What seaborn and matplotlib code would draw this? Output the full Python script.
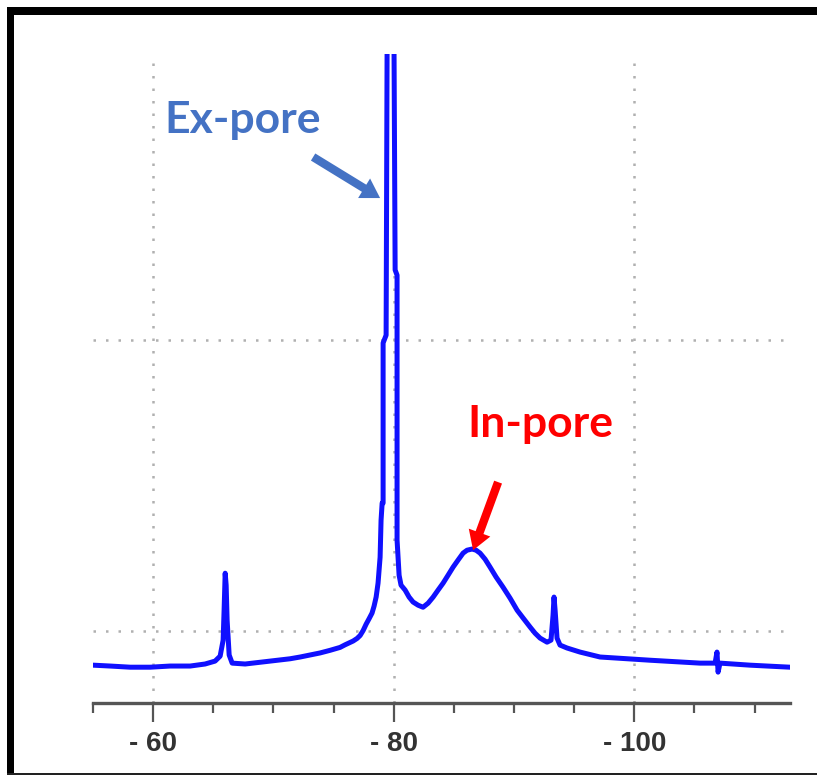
import matplotlib
matplotlib.use("Agg")
import matplotlib.pyplot as plt
from matplotlib.patches import Rectangle
from matplotlib.ticker import MultipleLocator, FixedLocator, FuncFormatter
import seaborn as sns
import pandas as pd

# Chemical shift (ppm) and intensity
ppm = [-55.01, -56.43, -58.09, -59.75, -61.41, -63.08, -64.32, -65.15, -65.57,
       -65.82, -65.90, -65.99, -66.07, -66.15, -66.32, -66.57, -67.65, -69.73,
       -71.39, -72.22, -73.88, -74.71, -75.54, -75.96, -76.63, -76.96, -77.21,
       -77.46, -77.71, -77.96, -78.20, -78.37, -78.54, -78.70,
       -78.87, -78.95, -79.04, -79.12, -79.12, -79.37, -79.45, -79.70, -80.03,
       -80.12, -80.28, -80.28, -80.45, -80.61, -80.95, -81.28, -81.61, -82.03,
       -82.44, -82.86, -83.28, -83.69, -84.11, -84.52, -84.94, -85.35, -85.77,
       -86.10, -86.52, -86.85, -87.18, -87.60, -88.01, -88.51, -89.09, -89.68,
       -90.26, -90.76, -91.34, -91.75,
       -92.17, -92.75, -93.08, -93.25, -93.33, -93.42, -93.58, -93.83, -94.41,
       -95.49, -97.16, -101.31, -105.47, -106.72, -106.88, -106.97, -107.13,
       -109.63, -112.95]
intensity = [-0.117, -0.120, -0.124, -0.124, -0.120, -0.120, -0.113, -0.103, -0.086,
             -0.031, 0.072, 0.199, 0.158, 0.038, -0.082, -0.110, -0.113, -0.103,
             -0.095, -0.089, -0.075, -0.066, -0.056, -0.047, -0.034, -0.025, -0.015,
             0.002, 0.024, 0.043, 0.062, 0.086, 0.117, 0.165,
             0.254, 0.381, 0.440, 0.440, 0.990, 1.017, 1.983, 3.000, 1.983,
             1.241, 1.223, 0.313, 0.192, 0.158, 0.141, 0.117, 0.100, 0.089,
             0.082, 0.096, 0.117, 0.141, 0.165, 0.192, 0.220, 0.244, 0.268,
             0.278, 0.282, 0.278, 0.268, 0.247, 0.220, 0.186, 0.151, 0.113,
             0.072, 0.045, 0.014, -0.007,
             -0.024, -0.038, -0.031, 0.055, 0.117, 0.072, -0.024, -0.048, -0.058,
             -0.072, -0.089, -0.100, -0.110, -0.110, -0.072, -0.141, -0.110,
             -0.117, -0.124]

major_ticks = [-60, -80, -100]
hgrid_levels = [0.0, 1.0]

df = pd.DataFrame({"ppm": ppm, "intensity": intensity})

sns.set_theme(style="white")
fig = plt.figure(figsize=(8.17, 7.75), dpi=100)
ax = fig.add_axes([93 / 817, 1 - 703 / 775, (790 - 93) / 817, (703 - 54) / 775])

sns.lineplot(data=df, x="ppm", y="intensity", sort=False, estimator=None,
             color="#1010ff", linewidth=3.6, ax=ax, zorder=3)

ax.set_xlim(-55.0, -112.95)
ax.set_ylim(-0.247, 1.983)

# grid
grid_kw = dict(color="#b0b0b0", linestyle=(0, (1, 4)), linewidth=1.8, zorder=1)
for t in major_ticks:
    ax.axvline(t, **grid_kw)
for h in hgrid_levels:
    ax.axhline(h, **grid_kw)

# spines/ticks
for s in ["left", "right", "top"]:
    ax.spines[s].set_visible(False)
ax.spines["bottom"].set_color("#555555")
ax.spines["bottom"].set_linewidth(2.4)
ax.set_yticks([])
ax.xaxis.set_major_locator(FixedLocator(major_ticks))
ax.xaxis.set_minor_locator(MultipleLocator(5))
ax.xaxis.set_major_formatter(FuncFormatter(lambda v, p: "- %d" % abs(v)))
ax.tick_params(axis="x", which="major", direction="out", length=14, width=1.6,
               color="#555555", pad=6, labelsize=20, labelcolor="#333333")
ax.tick_params(axis="x", which="minor", direction="out", length=7, width=1.6,
               color="#555555")
ax.tick_params(axis="x", which="both", bottom=True)
for lab in ax.get_xticklabels():
    lab.set_fontfamily("Liberation Sans")
    lab.set_fontweight("bold")
ax.set_xlabel("")
ax.set_ylabel("")

# annotations
ax.annotate("", xy=(-78.87, 1.488), xytext=(-73.30, 1.629),
            arrowprops=dict(arrowstyle="simple,head_length=0.9,head_width=1.1,tail_width=0.4",
                            mutation_scale=15, color="#4472C4", lw=0, shrinkA=0, shrinkB=0),
            zorder=5)
ax.text(-67.44, 1.711, "Ex-pore", color="#4472C4", fontsize=32, fontweight="bold",
        family="Lato", ha="center", va="baseline", zorder=5)

ax.annotate("", xy=(-86.60, 0.278), xytext=(-88.68, 0.512),
            arrowprops=dict(arrowstyle="simple,head_length=0.9,head_width=1.1,tail_width=0.4",
                            mutation_scale=15, color="#FF0000", lw=0, shrinkA=0, shrinkB=0),
            zorder=5)
ax.text(-92.17, 0.667, "In-pore", color="#FF0000", fontsize=32, fontweight="bold",
        family="Lato", ha="center", va="baseline", zorder=5)

# figure frame
W, H = 817, 775
fig.add_artist(Rectangle((7 / W, 1 - 15 / H), 1, 8 / H, transform=fig.transFigure,
                         color="black", lw=0))
fig.add_artist(Rectangle((7 / W, 0), 7 / W, 1 - 7 / H, transform=fig.transFigure,
                         color="black", lw=0))
fig.add_artist(Rectangle((7 / W, 0), 1, 2.5 / H, transform=fig.transFigure,
                         color="#222222", lw=0))

fig.savefig("out.png", dpi=100)
